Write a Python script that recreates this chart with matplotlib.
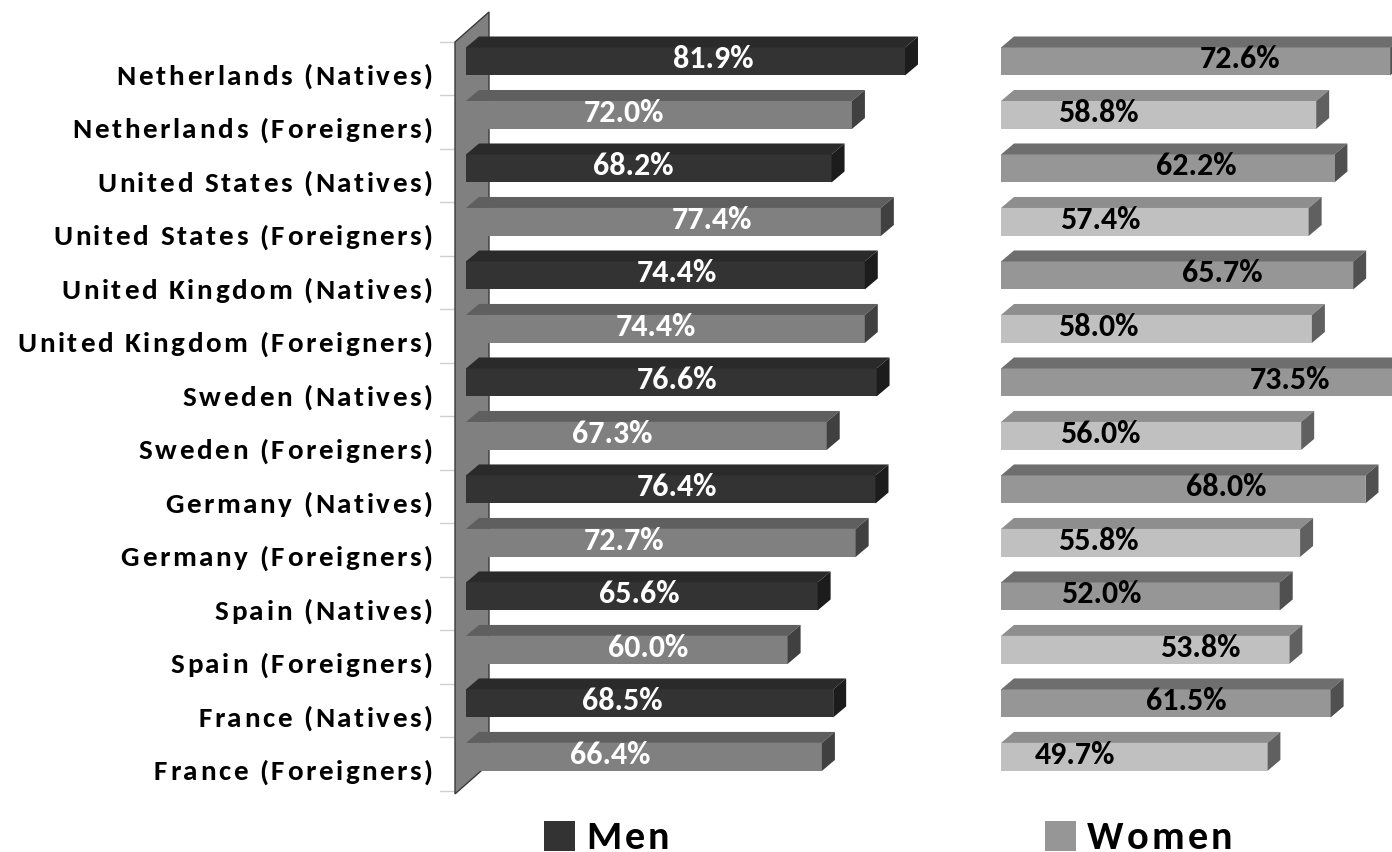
import matplotlib
matplotlib.use("Agg")
import matplotlib.pyplot as plt
from matplotlib.patches import Polygon, Rectangle
from matplotlib.font_manager import FontProperties
from matplotlib.transforms import IdentityTransform

plt.rcParams['font.family'] = ['Carlito', 'DejaVu Sans']
plt.rcParams['font.weight'] = 'bold'

categories = ["Netherlands (Natives)", "Netherlands (Foreigners)",
              "United States (Natives)", "United States (Foreigners)",
              "United Kingdom (Natives)", "United Kingdom (Foreigners)",
              "Sweden (Natives)", "Sweden (Foreigners)",
              "Germany (Natives)", "Germany (Foreigners)",
              "Spain (Natives)", "Spain (Foreigners)",
              "France (Natives)", "France (Foreigners)"]
men = [81.9, 72.0, 68.2, 77.4, 74.4, 74.4, 76.6, 67.3, 76.4, 72.7, 65.6, 60.0, 68.5, 66.4]
women = [72.6, 58.8, 62.2, 57.4, 65.7, 58.0, 73.5, 56.0, 68.0, 55.8, 52.0, 53.8, 61.5, 49.7]
series = ["Men", "Women"]

# where excel happened to put the value labels (in % units along the bar)
men_label_at = [46.1, 29.5, 31.2, 45.9, 39.4, 35.4, 39.4, 27.2, 39.4, 29.5, 32.3, 34.0, 29.1, 26.9]
women_label_at = [44.6, 18.1, 36.4, 18.5, 41.2, 18.1, 53.9, 18.5, 42.0, 18.1, 18.7, 37.1, 34.5, 13.8]

# (front, top, side) shades: natives / foreigners
men_cols = [("#333333", "#2a2a2a", "#1c1c1c"), ("#808080", "#5f5f5f", "#404040")]
women_cols = [("#969696", "#6e6e6e", "#505050"), ("#c0c0c0", "#8e8e8e", "#606060")]

W, H = 1392, 853
fig = plt.figure(figsize=(W / 100, H / 100), dpi=100)
renderer = fig.canvas.get_renderer()

px_per_pct = 5.36
row_px = 53.5
bar_h = 28 / row_px
ddx = 13 / px_per_pct
ddy = 11 / row_px

def make_ax(left_px, right_px, zero_px):
    ax = fig.add_axes([left_px / W, (H - 805) / H, (right_px - left_px) / W, 805 / H])
    ax.set_xlim((left_px - zero_px) / px_per_pct, (right_px - zero_px) / px_per_pct)
    ax.set_ylim(13.88, -62.5 / row_px)
    for s in ax.spines.values():
        s.set_visible(False)
    ax.set_xticks([])
    ax.set_yticks([])
    return ax

def bars3d(ax, vals, cols):
    for i, v in enumerate(vals):
        front, top, side = cols[i % 2]
        y0, y1 = i - bar_h / 2, i + bar_h / 2
        ax.barh(i, v, height=bar_h, color=front, zorder=3)
        ax.add_patch(Polygon([(0, y0), (ddx, y0 - ddy), (v + ddx, y0 - ddy), (v, y0)],
                             closed=True, facecolor=top, edgecolor='none', zorder=3))
        ax.add_patch(Polygon([(v, y0), (v + ddx, y0 - ddy), (v + ddx, y1 - ddy), (v, y1)],
                             closed=True, facecolor=side, edgecolor='none', zorder=3))

def char_w(c, prop):
    w2 = renderer.get_text_width_height_descent("HH", prop, ismath=False)[0]
    w3 = renderer.get_text_width_height_descent("H" + c + "H", prop, ismath=False)[0]
    return w3 - w2

def spaced_text(x, y, s, size, track, ha='left', color='black'):
    # text with extra letter spacing, x/y in pixels (y = baseline, from bottom)
    prop = FontProperties(family=['Carlito', 'DejaVu Sans'], weight='bold', size=size)
    ws = [char_w(c, prop) for c in s]
    total = sum(ws) + track * (len(s) - 1)
    if ha == 'right':
        x -= total
    for c, w in zip(s, ws):
        if c != ' ':
            fig.text(x, y, c, fontproperties=prop, color=color, ha='left',
                     va='baseline', transform=IdentityTransform())
        x += w + track

# men panel
ax1 = make_ax(440, 940, 466)
wx0, wx1 = -11 / px_per_pct, 23 / px_per_pct
wy0, wy1 = -19.5 / row_px, (795 - 62.5) / row_px
wd = 30 / row_px
ax1.add_patch(Polygon([(wx0, wy0), (wx1, wy0 - wd), (wx1, wy1 - wd), (wx0, wy1)],
                      closed=True, facecolor='#808080', edgecolor='#3a3a3a', lw=1, zorder=2))
for k in range(len(categories) + 1):
    ax1.plot([ax1.get_xlim()[0], wx0], [wy0 + k, wy0 + k], color='#d0d0d0', lw=1, zorder=1)
bars3d(ax1, men, men_cols)
for i, v in enumerate(men):
    ax1.text(men_label_at[i], i - 0.06, f"{v:.1f}%", color='white', fontsize=23,
             fontweight='bold', ha='center', va='center', zorder=5)

# category labels (spaced out like the original)
for i, lab in enumerate(categories):
    yb = ax1.transData.transform((0, i))[1] - 22.5
    spaced_text(433, yb, lab, 21, 2.6, ha='right')

# women panel
ax2 = make_ax(990, 1392, 1001)
bars3d(ax2, women, women_cols)
for i, v in enumerate(women):
    ax2.text(women_label_at[i], i - 0.06, f"{v:.1f}%", color='black', fontsize=23,
             fontweight='bold', ha='center', va='center', zorder=5)

# legend
for name, col, sq_x in zip(series, [men_cols[0][0], women_cols[0][0]], [544, 1045]):
    fig.add_artist(Rectangle((sq_x, 1), 31, 30, transform=IdentityTransform(),
                             facecolor=col, edgecolor='none'))
    spaced_text(sq_x + 42, 4, name, 29, 3.2)

fig.savefig("out.png", dpi=100)
